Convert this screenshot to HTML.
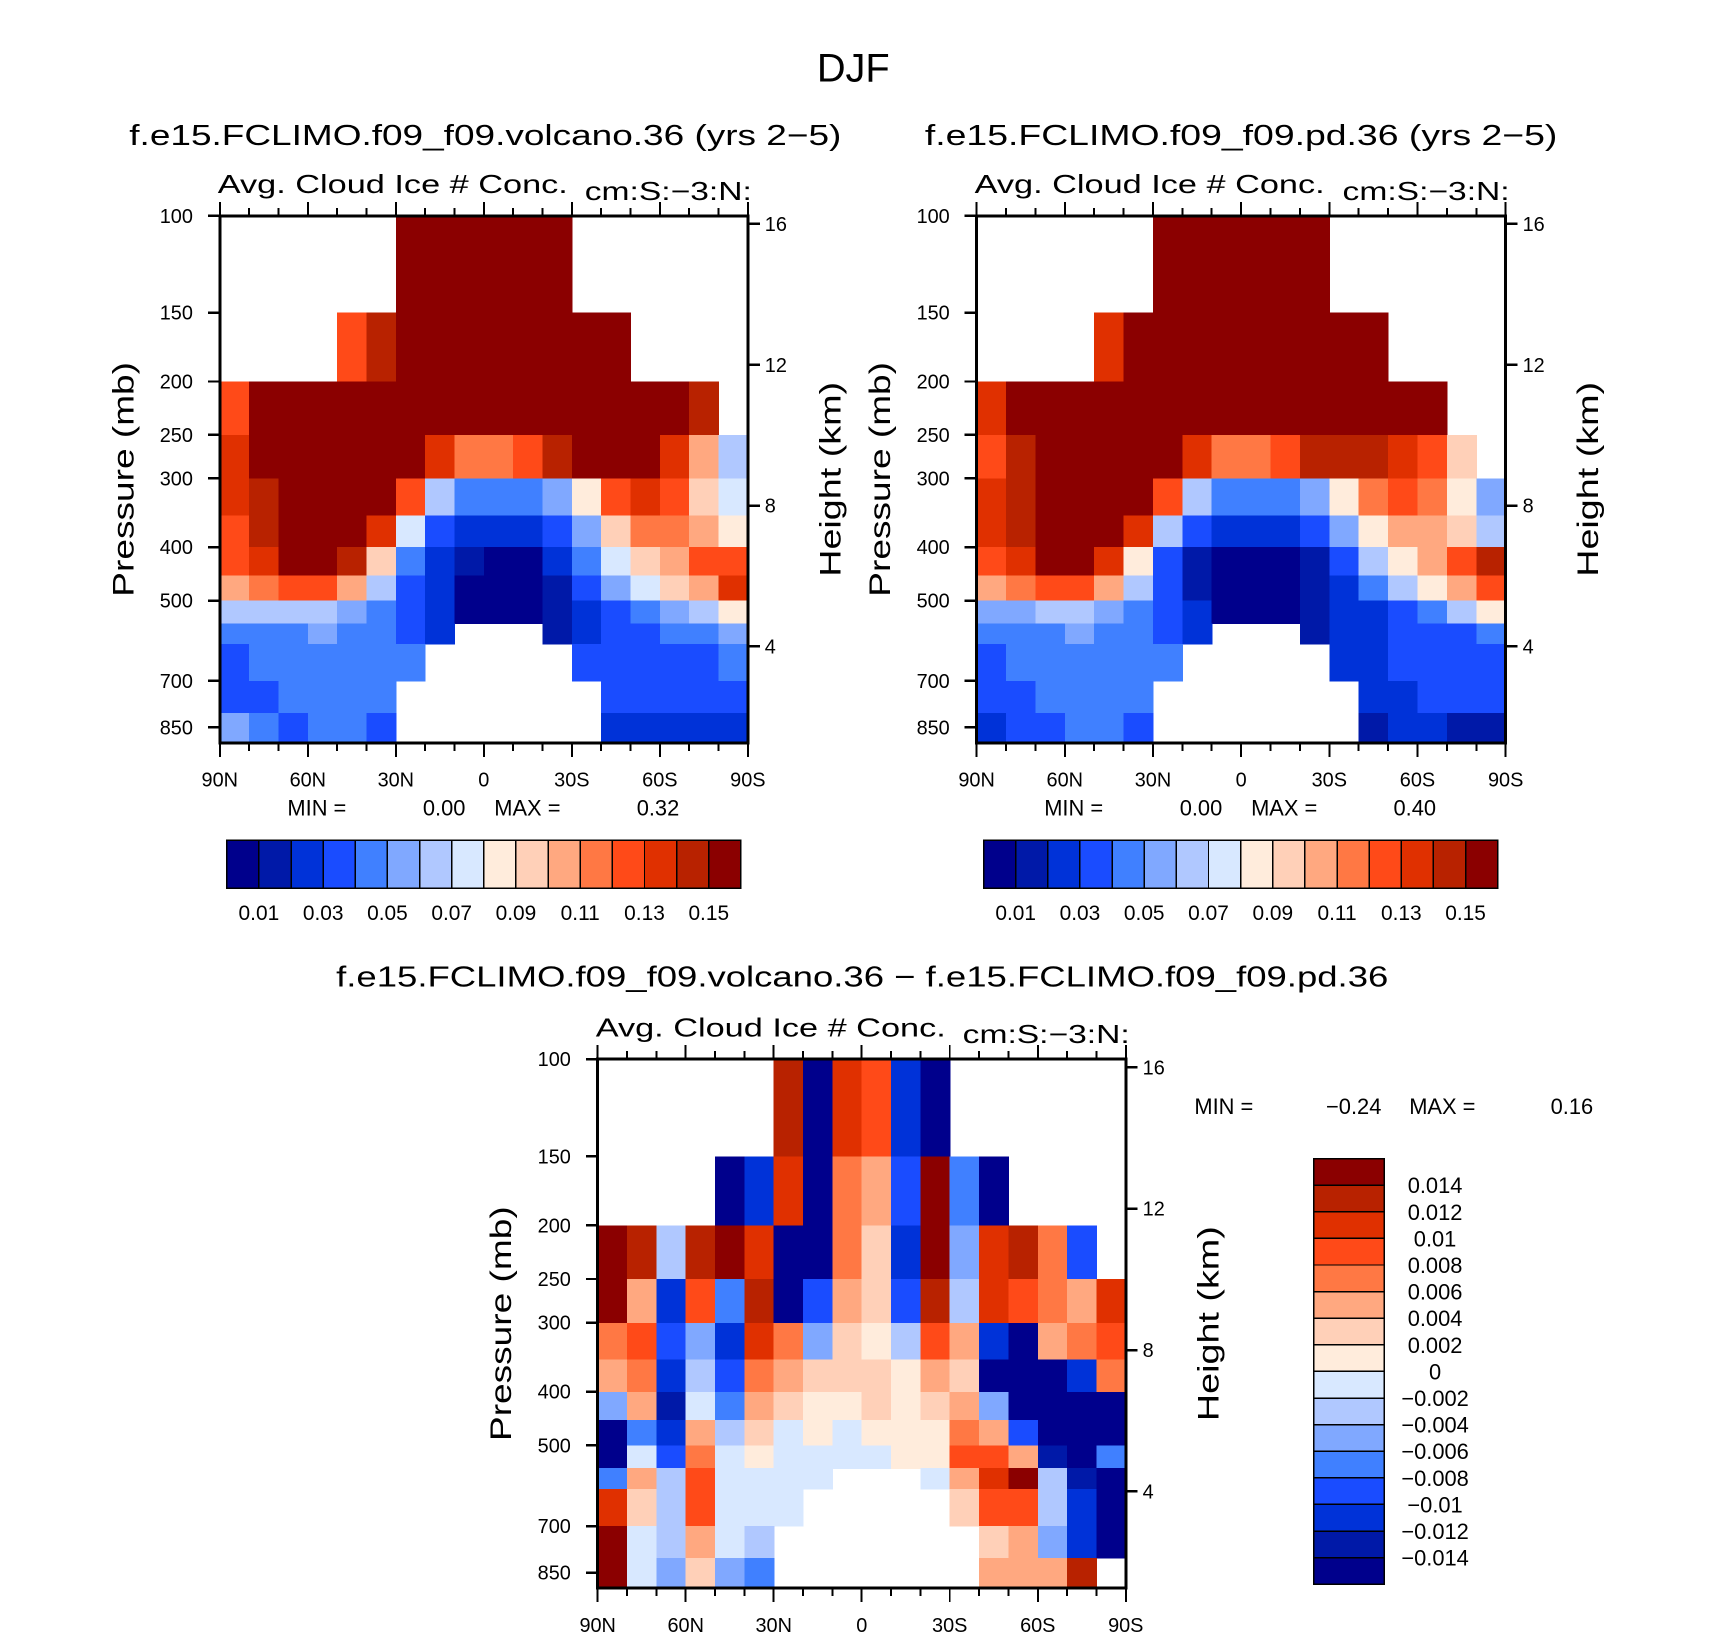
<!DOCTYPE html>
<html><head><meta charset="utf-8"><style>
html,body{margin:0;padding:0;background:#fff}
svg{display:block}
text{font-family:"Liberation Sans",sans-serif;fill:#000}
</style></head><body>
<svg id="fig" width="1710" height="1639" viewBox="0 0 1710 1639" shape-rendering="crispEdges">
<g id="root" transform="scale(0.9945)">
<text x="858" y="82" font-size="40" text-anchor="middle">DJF</text>
<text x="488" y="146" font-size="29" text-anchor="middle" textLength="716" lengthAdjust="spacingAndGlyphs">f.e15.FCLIMO.f09_f09.volcano.36 (yrs 2−5)</text>
<text x="1248" y="146" font-size="29" text-anchor="middle" textLength="636" lengthAdjust="spacingAndGlyphs">f.e15.FCLIMO.f09_f09.pd.36 (yrs 2−5)</text>
<text x="867" y="992" font-size="29" text-anchor="middle" textLength="1058" lengthAdjust="spacingAndGlyphs">f.e15.FCLIMO.f09_f09.volcano.36 − f.e15.FCLIMO.f09_f09.pd.36</text>
</g>
</svg>
<script>
const NS='http://www.w3.org/2000/svg';
const svg=document.getElementById('root');
// ---- data ----
const latEdges=[90,80,70,60,50,40,30,20,10,0,-10,-20,-30,-40,-50,-60,-70,-80,-90];
const presEdges=[100,150,200,250,300,350,400,450,500,550,600,700,800,907];
const presTicks=[100,150,200,250,300,400,500,700,850];
const heightTicks=[16,12,8,4];
const latTicks=[90,60,30,0,-30,-60,-90];
const latTickLabels=['90N','60N','30N','0','30S','60S','90S'];
const absLevels=[0.01,0.02,0.03,0.04,0.05,0.06,0.07,0.08,0.09,0.10,0.11,0.12,0.13,0.14,0.15];
const absLabels=['0.01','0.03','0.05','0.07','0.09','0.11','0.13','0.15'];
const diffLevels=[-0.014,-0.012,-0.01,-0.008,-0.006,-0.004,-0.002,0,0.002,0.004,0.006,0.008,0.01,0.012,0.014];
const diffLabels=['−0.014','−0.012','−0.01','−0.008','−0.006','−0.004','−0.002','0','0.002','0.004','0.006','0.008','0.01','0.012','0.014'];
const n=null;
const volcano=[
[n,n,n,n,n,n,.16,.16,.16,.16,.16,.16,n,n,n,n,n,n],
[n,n,n,n,.12,.14,.16,.16,.16,.16,.16,.16,.16,.16,n,n,n,n],
[.12,.15,.16,.16,.16,.16,.16,.16,.16,.16,.16,.16,.16,.16,.16,.16,.14,n],
[.13,.15,.16,.16,.16,.16,.15,.13,.11,.11,.12,.14,.15,.15,.15,.13,.10,.06],
[.13,.14,.16,.16,.16,.15,.12,.06,.04,.04,.04,.05,.08,.12,.13,.12,.09,.07],
[.12,.14,.16,.16,.16,.13,.07,.03,.02,.02,.02,.03,.05,.09,.11,.11,.10,.08],
[.12,.13,.15,.16,.14,.09,.04,.02,.01,.005,.005,.02,.04,.07,.09,.10,.12,.12],
[.10,.11,.12,.12,.10,.06,.03,.02,.005,.005,.005,.01,.03,.05,.07,.09,.10,.13],
[.06,.06,.06,.06,.05,.04,.03,.02,.005,.005,.005,.01,.02,.03,.04,.05,.06,.08],
[.04,.04,.04,.05,.04,.04,.03,.02,n,n,n,.01,.02,.03,.03,.04,.04,.05],
[.03,.04,.04,.04,.04,.04,.04,n,n,n,n,n,.03,.03,.03,.03,.03,.04],
[.03,.03,.04,.04,.04,.04,n,n,n,n,n,n,n,.03,.03,.03,.03,.03],
[.05,.04,.03,.04,.04,.03,n,n,n,n,n,n,n,.02,.02,.02,.02,.02]];
const pd=[
[n,n,n,n,n,n,.16,.16,.16,.16,.16,.16,n,n,n,n,n,n],
[n,n,n,n,.13,.15,.16,.16,.16,.16,.16,.16,.16,.16,n,n,n,n],
[.13,.16,.16,.16,.16,.16,.16,.16,.16,.16,.16,.16,.16,.16,.16,.16,n,n],
[.12,.14,.16,.16,.16,.16,.15,.13,.11,.11,.12,.14,.14,.14,.13,.12,.09,n],
[.13,.14,.16,.16,.16,.15,.12,.06,.04,.04,.04,.05,.08,.11,.12,.11,.08,.05],
[.13,.14,.16,.16,.16,.13,.06,.03,.02,.02,.02,.03,.05,.08,.10,.10,.09,.06],
[.12,.13,.15,.15,.13,.08,.03,.01,.005,.005,.005,.01,.03,.06,.08,.10,.12,.14],
[.10,.11,.12,.12,.10,.06,.03,.01,.005,.005,.005,.01,.02,.04,.06,.08,.10,.12],
[.05,.05,.06,.06,.05,.04,.03,.02,.005,.005,.005,.01,.02,.02,.03,.04,.06,.08],
[.04,.04,.04,.05,.04,.04,.03,.02,n,n,n,.01,.02,.02,.03,.03,.03,.04],
[.03,.04,.04,.04,.04,.04,.04,n,n,n,n,n,.02,.02,.03,.03,.03,.03],
[.03,.03,.04,.04,.04,.04,n,n,n,n,n,n,n,.02,.02,.03,.03,.03],
[.02,.03,.03,.04,.04,.03,n,n,n,n,n,n,n,.01,.02,.02,.01,.01]];
const diff=[
[n,n,n,n,n,n,.012,-.015,.01,.008,-.012,-.015,n,n,n,n,n,n],
[n,n,n,n,-.015,-.012,.01,-.015,.006,.004,-.01,.014,-.008,-.015,n,n,n,n],
[.015,.012,-.004,.012,.015,.01,-.015,-.015,.006,.002,-.012,.015,-.006,.01,.012,.006,-.01,n],
[.015,.004,-.012,.008,-.008,.012,-.015,-.01,.004,.002,-.01,.012,-.004,.01,.008,.006,.004,.01],
[.006,.008,-.01,-.006,-.012,.01,.006,-.006,.002,.0005,-.004,.008,.004,-.012,-.015,.004,.006,.008],
[.004,.006,-.012,-.004,-.01,.006,.004,.002,.002,.002,.001,.004,.002,-.015,-.015,-.015,-.012,.006],
[-.006,.004,-.014,-.002,-.008,.004,.002,.001,.001,.002,.001,.002,.004,-.006,-.015,-.015,-.015,-.015],
[-.015,-.008,-.012,.004,-.004,.002,-.002,.001,-.002,.001,.001,.001,.006,.004,-.01,-.015,-.015,-.015],
[-.015,-.002,-.01,.006,-.002,.001,-.002,-.001,-.001,-.001,.001,.001,.008,.008,.004,-.014,-.015,-.008],
[-.008,.004,-.004,.008,-.002,-.002,-.002,-.001,n,n,n,-.001,.004,.01,.014,-.004,-.014,-.015],
[.01,.002,-.004,.008,-.001,-.001,-.002,n,n,n,n,n,.002,.008,.008,-.004,-.012,-.015],
[.014,-.002,-.004,.004,-.001,-.004,n,n,n,n,n,n,n,.002,.004,-.006,-.012,-.015],
[.015,-.001,-.006,.002,-.006,-.008,n,n,n,n,n,n,n,.004,.004,.004,.012,n]];
const palette=['#00008c','#0019a8','#0032d8','#1a4cff','#4080ff','#80a8ff','#b0c8ff','#d8e8ff','#ffecdc','#ffd0b8','#ffa880','#ff7844','#ff4a18','#e03000','#b82200','#8b0000'];

function mk(tag,attrs,parent){const e=document.createElementNS(NS,tag);for(const k in attrs)e.setAttribute(k,attrs[k]);(parent||svg).appendChild(e);return e;}
function txt(x,y,s,size,anchor,parent){const t=mk('text',{x:x,y:y,'font-size':size,'text-anchor':anchor||'start'},parent);t.textContent=s;return t;}
function cls(v,levels){let c=0;for(const l of levels)if(v>=l-1e-9)c++;return c;}

function panel(id,L,R,T,B,vals,levels){
  const g=mk('g',{});
  
  
  const W=R-L,H=B-T;
  const K=H/Math.log10(907/100);
  const xs=lat=>L+(90-lat)/180*W;
  const ys=p=>T+Math.log10(p/100)*K;
  for(let r=0;r<vals.length;r++)for(let c=0;c<vals[r].length;c++){
    const v=vals[r][c];if(v===null)continue;
    const x0=xs(latEdges[c]),x1=xs(latEdges[c+1]),y0=ys(presEdges[r]),y1=ys(presEdges[r+1]);
    const rc=mk('rect',{x:x0,y:y0,width:x1-x0+0.6,height:y1-y0+0.6,fill:palette[cls(v,levels)]},g);
    
    
  }
  const fr=mk('rect',{x:L,y:T,width:W,height:H,fill:'none',stroke:'#000','stroke-width':3},g);
  
  
  for(let lat=90;lat>=-90;lat-=10){
    const x=xs(lat),major=lat%30===0,len=major?14:8;
    mk('line',{x1:x,y1:B,x2:x,y2:B+len,stroke:'#000','stroke-width':2},g);
    mk('line',{x1:x,y1:T,x2:x,y2:T-len,stroke:'#000','stroke-width':2},g);
  }
  latTicks.forEach((lat,i)=>{const t=txt(xs(lat),B+44,latTickLabels[i],20,'middle',g);
    
    });
  presTicks.forEach(p=>{const y=ys(p);mk('line',{x1:L-12,y1:y,x2:L,y2:y,stroke:'#000','stroke-width':2.5},g);
    const t=txt(L-27,y+7,String(p),20,'end',g);
    
    });
  heightTicks.forEach(z=>{const p=1092*Math.exp(-z/6.79);const y=ys(p);
    mk('line',{x1:R,y1:y,x2:R+12,y2:y,stroke:'#000','stroke-width':2.5},g);
    const t=txt(R+17,y+7,String(z),20,'start',g);
    
    });
  const a=txt(L-2,T-23,'Avg. Cloud Ice # Conc.',26,'start',g);a.setAttribute('textLength',352);a.setAttribute('lengthAdjust','spacingAndGlyphs');
  
  
  const u=txt(R+4,T-16,'cm:S:−3:N:',26,'end',g);u.setAttribute('textLength',168);u.setAttribute('lengthAdjust','spacingAndGlyphs');
  
  
  const cy=T+H*0.5;
  const py=txt(0,0,'Pressure (mb)',30,'middle',g);py.setAttribute('transform',`translate(${L-87},${cy}) rotate(-90)`);py.setAttribute('textLength',236);py.setAttribute('lengthAdjust','spacingAndGlyphs');
  
  
  const hy=txt(0,0,'Height (km)',30,'middle',g);hy.setAttribute('transform',`translate(${R+93},${cy}) rotate(-90)`);hy.setAttribute('textLength',196);hy.setAttribute('lengthAdjust','spacingAndGlyphs');
  
  
}
function hbar(id,L,T,W,H,labels){
  const g=mk('g',{});
  
  
  const bw=W/16;
  palette.forEach((c,i)=>mk('rect',{x:L+i*bw,y:T,width:bw,height:H,fill:c,stroke:'#000','stroke-width':1.5},g));
  labels.forEach((s,i)=>{const t=txt(L+(2*i+1)*bw,T+H+32,s,21,'middle',g);
    
    });
}
panel('panel1',221,752,217,747,volcano,absLevels);
panel('panel2',982,1514,217,747,pd,absLevels);
panel('panel3',601,1132,1065,1597,diff,diffLevels);
hbar('colorbar1',228,845,517,48,absLabels);
hbar('colorbar2',989,845,517,48,absLabels);
(function(){
  const g=mk('g',{});
  
  
  const L=1321,T=1165,W=71,H=428,bh=H/16;
  for(let i=0;i<16;i++)mk('rect',{x:L,y:T+i*bh,width:W,height:bh,fill:palette[15-i],stroke:'#000','stroke-width':1.5},g);
  for(let i=0;i<15;i++){const t=txt(1443,T+(i+1)*bh+8,diffLabels[14-i],22,'middle',g);
    
    }
})();
function stat(y,xMin,xMinVal,xMax,xMaxVal,vMin,vMax){
  const g=mk('g',{});
  
  
  txt(xMin,y,'MIN =',22,'start',g);
  txt(xMinVal,y,vMin,22,'end',g);
  txt(xMax,y,'MAX =',22,'start',g);
  txt(xMaxVal,y,vMax,22,'end',g);
}
stat(820,289,468,497,683,'0.00','0.32');
stat(820,1050,1229,1258,1444,'0.00','0.40');
stat(1120,1201,1389,1417,1602,'−0.24','0.16');
</script>
</body></html>
